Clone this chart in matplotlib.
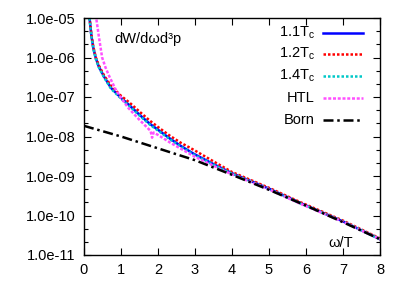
import numpy as np
import matplotlib
matplotlib.use("Agg")
import matplotlib.pyplot as plt
from matplotlib.ticker import LogLocator, FixedLocator, NullFormatter

plt.rcParams['font.family'] = ['Liberation Sans', 'DejaVu Sans']
plt.rcParams['mathtext.fontset'] = 'custom'
plt.rcParams['mathtext.rm'] = 'Liberation Sans'
plt.rcParams['mathtext.it'] = 'Liberation Sans'

# omega/T grid and log10 of rate
w_tc = [0.12, 0.15, 0.2, 0.25, 0.32, 0.4, 0.54, 0.73, 1.0, 1.24, 1.5, 1.78,
        2.0, 2.32, 2.6, 2.97, 3.5, 4.0, 5.0, 5.84, 7.0, 8.0]
log_11 = [-4.75, -5.0, -5.45, -5.75, -6.02, -6.23, -6.48, -6.77, -7.02, -7.22,
          -7.45, -7.68, -7.83, -8.05, -8.23, -8.44, -8.7, -8.93, -9.32, -9.68,
          -10.15, -10.6]
log_12 = [-4.75, -5.0, -5.42, -5.72, -6.0, -6.2, -6.45, -6.72, -6.97, -7.15,
          -7.37, -7.6, -7.76, -7.98, -8.15, -8.34, -8.63, -8.9, -9.3, -9.66,
          -10.13, -10.58]
log_14 = [-4.78, -5.03, -5.47, -5.77, -6.04, -6.25, -6.5, -6.79, -7.04, -7.24,
          -7.47, -7.7, -7.85, -8.07, -8.25, -8.46, -8.71, -8.94, -9.33, -9.69,
          -10.15, -10.6]

w_htl = [0.3, 0.33, 0.4, 0.49, 0.58, 0.68, 0.85, 1.0, 1.2, 1.5, 1.8, 1.84,
         1.88, 2.0, 2.32, 2.97, 3.5, 4.0, 5.0, 5.84, 7.0, 8.0]
log_htl = [-4.8, -5.0, -5.46, -6.0, -6.25, -6.47, -6.8, -7.02, -7.28, -7.58,
           -7.86, -8.03, -7.9, -7.96, -8.15, -8.5, -8.74, -8.96, -9.34, -9.7,
           -10.16, -10.6]

w_born = [0, 1, 2, 3, 4, 5, 6, 7, 8]
log_born = [-7.73, -8.0, -8.3, -8.6, -8.97, -9.35, -9.75, -10.17, -10.6]

labels = ["1.1T$_\\mathrm{c}$", "1.2T$_\\mathrm{c}$", "1.4T$_\\mathrm{c}$", "HTL", "Born"]
colors = ["#0000ff", "#ff0000", "#00c8c8", "#ff50ff", "#000000"]
styles = ["-", (0, (1, 0.8)), (0, (1, 0.8)), (0, (1.2, 0.7)), (0, (4, 1.5, 1, 1.5))]

fig = plt.figure(figsize=(4.07, 2.85), dpi=100)
ax = fig.add_axes([84 / 407, 30 / 285, 296 / 407, 237 / 285])

series = [(w_tc, log_11), (w_tc, log_12), (w_tc, log_14), (w_htl, log_htl), (w_born, log_born)]
for (x, ly), c, ls in zip(series, colors, styles):
    ax.plot(x, np.power(10.0, ly), color=c, linestyle=ls, linewidth=1.8)

ax.set_yscale('log')
ax.set_xlim(0, 8)
ax.set_ylim(1e-11, 1e-5)
ax.xaxis.set_major_locator(FixedLocator(range(9)))
ax.yaxis.set_minor_locator(LogLocator(base=10, subs=(2.15, 4.65), numticks=10))
ax.yaxis.set_minor_formatter(NullFormatter())
ax.set_yticks([10.0 ** k for k in range(-11, -4)])
ax.set_yticklabels(["1.0e-%02d" % k for k in range(11, 4, -1)])
ax.tick_params(which='both', direction='in', top=True, right=True, labelsize=10.5)
ax.tick_params(which='major', length=5, width=0.8, pad=6)
ax.tick_params(which='minor', length=3, width=0.8)
for s in ax.spines.values():
    s.set_linewidth(1.0)

ax.text(114 / 407, 1 - 39 / 285, "dW/dωd³p", transform=fig.transFigure,
        fontsize=10.5, va='center', ha='left')
ax.text(353 / 407, 1 - 243 / 285, "ω/T", transform=fig.transFigure,
        fontsize=10.5, va='center', ha='right')

# legend drawn by hand, gnuplot style
rows = [32.7, 54.3, 76.0, 98.0, 120.0]
for lab, c, ls, yy in zip(labels, colors, styles, rows):
    yf = 1 - yy / 285
    fig.text(315 / 407, yf, lab, fontsize=10.5, ha='right', va='center')
    fig.add_artist(plt.Line2D([323 / 407, 363 / 407], [yf, yf], color=c,
                              linestyle=ls, linewidth=1.8))

fig.savefig("out.png", dpi=100)
